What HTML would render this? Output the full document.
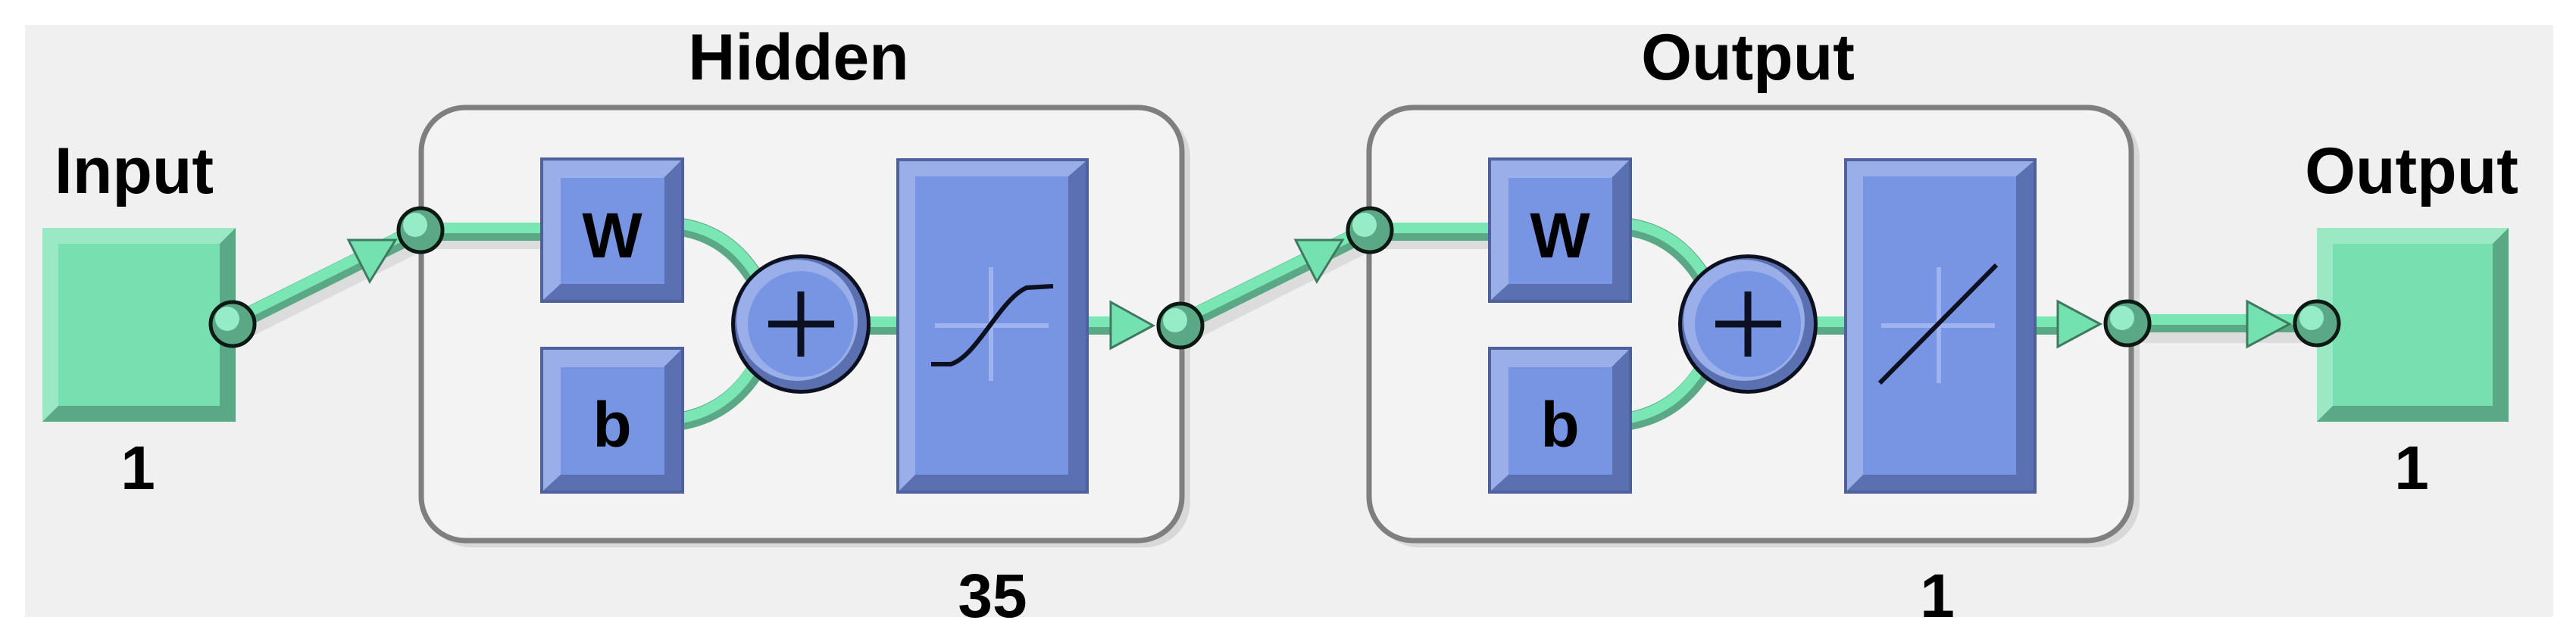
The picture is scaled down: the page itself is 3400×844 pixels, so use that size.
<!DOCTYPE html>
<html><head><meta charset="utf-8"><style>
html,body{margin:0;padding:0;background:#fff;}
svg{display:block;}
text{font-family:"Liberation Sans",sans-serif;font-weight:bold;fill:#000;}
</style></head><body>
<svg width="3400" height="844" viewBox="0 0 3400 844" xmlns="http://www.w3.org/2000/svg">
<defs>
<g id="bbox">
</g>
</defs>
<rect x="33" y="33" width="3337" height="782" fill="#f0f0f0"/>

<!-- labels -->
<text x="1054" y="105" font-size="86" text-anchor="middle">Hidden</text>
<text x="2307" y="105" font-size="86" text-anchor="middle">Output</text>
<text x="177" y="255" font-size="86" text-anchor="middle">Input</text>
<text x="3183" y="255" font-size="86" text-anchor="middle">Output</text>
<text x="182" y="646" font-size="82" text-anchor="middle">1</text>
<text x="3183" y="646" font-size="82" text-anchor="middle">1</text>
<text x="1310" y="815" font-size="82" text-anchor="middle">35</text>
<text x="2557" y="815" font-size="82" text-anchor="middle">1</text>

<!-- layer boxes -->
<rect x="562" y="148" width="1009" height="575" rx="60" fill="#d8d8d8"/>
<rect x="556" y="142" width="1004" height="572" rx="58" fill="#f3f3f3" stroke="#7f7f7f" stroke-width="7"/>
<rect x="1813" y="148" width="1011" height="575" rx="60" fill="#d8d8d8"/>
<rect x="1807" y="142" width="1006" height="572" rx="58" fill="#f3f3f3" stroke="#7f7f7f" stroke-width="7"/>

<!-- input/output green boxes -->
<g>
<rect x="56" y="301" width="255" height="256" fill="#5aa885"/>
<polygon points="56,301 311,301 290,322 77,322 77,536 56,557" fill="#9ae8c4"/>
<rect x="77" y="322" width="213" height="214" fill="#78e0b0"/>
<rect x="3058" y="301" width="253" height="256" fill="#5aa885"/>
<polygon points="3058,301 3311,301 3290,322 3079,322 3079,536 3058,557" fill="#9ae8c4"/>
<rect x="3079" y="322" width="211" height="214" fill="#78e0b0"/>
</g>

<!-- connectors: shadows -->
<g stroke="#dcdcdc" stroke-width="26" fill="none">
<line x1="312" y1="440" x2="560" y2="316"/>
<line x1="1562" y1="442" x2="1812" y2="316"/>
<line x1="2810" y1="440" x2="3058" y2="440"/>
<line x1="555" y1="316" x2="715" y2="316"/>
<line x1="1806" y1="316" x2="1966" y2="316"/>
</g>
<g fill="none" stroke-linecap="butt">
<!-- main green lines -->
<g stroke="#5aa885" stroke-width="24">
<line x1="307" y1="428" x2="555" y2="304"/>
<line x1="1558" y1="428" x2="1808" y2="304"/>
<line x1="2808" y1="427" x2="3058" y2="427"/>
<line x1="555" y1="306" x2="715" y2="306"/>
<line x1="1808" y1="306" x2="1966" y2="306"/>
<line x1="1140" y1="430" x2="1185" y2="430"/>
<line x1="2390" y1="430" x2="2436" y2="430"/>
<line x1="1430" y1="430" x2="1470" y2="430"/>
<line x1="2680" y1="430" x2="2720" y2="430"/>
<path d="M900,300 Q960,310 995,365"/>
<path d="M900,556 Q960,545 995,492"/>
<path d="M2151,300 Q2211,310 2246,365"/>
<path d="M2151,556 Q2211,545 2246,492"/>
</g>
<g stroke="#7ae6b4" stroke-width="14">
<line x1="305" y1="424" x2="553" y2="300"/>
<line x1="1556" y1="424" x2="1806" y2="300"/>
<line x1="2808" y1="422" x2="3058" y2="422"/>
<line x1="555" y1="301" x2="715" y2="301"/>
<line x1="1808" y1="301" x2="1966" y2="301"/>
<line x1="1140" y1="425" x2="1185" y2="425"/>
<line x1="2390" y1="425" x2="2436" y2="425"/>
<line x1="1430" y1="425" x2="1470" y2="425"/>
<line x1="2680" y1="425" x2="2720" y2="425"/>
<path d="M900,296 Q962,306 997,361"/>
<path d="M900,552 Q958,541 992,488"/>
<path d="M2151,296 Q2213,306 2248,361"/>
<path d="M2151,552 Q2209,541 2243,488"/>
</g>
</g>

<!-- arrowheads -->
<g fill="#74e2b0" stroke="#3f7a60" stroke-width="3">
<polygon points="1466,399 1466,460 1522,430"/>
<polygon points="2716,398 2716,458 2772,428"/>
<polygon points="2966,398 2966,458 3022,428"/>
<polygon points="460,317 522,317 488,372"/>
<polygon points="1710,317 1772,317 1738,372"/>
</g>

<!-- W and b boxes -->
<g>
<rect x="713" y="208" width="190" height="192" fill="#4f619c"/>
<rect x="717" y="212" width="182" height="184" fill="#5b70b0"/>
<polygon points="717,212 899,212 876,235 740,235 740,375 717,396" fill="#9aaeea"/>
<rect x="740" y="235" width="137" height="140" fill="#7895e3"/>
<text x="808" y="340" font-size="84" text-anchor="middle">W</text>

<rect x="713" y="458" width="190" height="194" fill="#4f619c"/>
<rect x="717" y="462" width="182" height="186" fill="#5b70b0"/>
<polygon points="717,462 899,462 876,485 740,485 740,627 717,648" fill="#9aaeea"/>
<rect x="740" y="485" width="137" height="142" fill="#7895e3"/>
<text x="808" y="590" font-size="84" text-anchor="middle">b</text>

<rect x="1964" y="208" width="190" height="192" fill="#4f619c"/>
<rect x="1968" y="212" width="182" height="184" fill="#5b70b0"/>
<polygon points="1968,212 2150,212 2127,235 1991,235 1991,375 1968,396" fill="#9aaeea"/>
<rect x="1991" y="235" width="137" height="140" fill="#7895e3"/>
<text x="2059" y="340" font-size="84" text-anchor="middle">W</text>

<rect x="1964" y="458" width="190" height="194" fill="#4f619c"/>
<rect x="1968" y="462" width="182" height="186" fill="#5b70b0"/>
<polygon points="1968,462 2150,462 2127,485 1991,485 1991,627 1968,648" fill="#9aaeea"/>
<rect x="1991" y="485" width="137" height="142" fill="#7895e3"/>
<text x="2059" y="590" font-size="84" text-anchor="middle">b</text>
</g>

<!-- transfer boxes -->
<g>
<rect x="1183" y="209" width="254" height="443" fill="#4f619c"/>
<rect x="1187" y="213" width="246" height="435" fill="#5b70b0"/>
<polygon points="1187,213 1433,213 1410,233 1208,233 1208,627 1187,648" fill="#9aaeea"/>
<rect x="1208" y="233" width="202" height="394" fill="#7895e3"/>
<line x1="1234" y1="430" x2="1384" y2="430" stroke="#9fb3ef" stroke-width="6"/>
<line x1="1308" y1="353" x2="1308" y2="503" stroke="#9fb3ef" stroke-width="6"/>
<path d="M1229,481 L1255,481 C1290,470 1320,395 1355,380 L1390,378" fill="none" stroke="#0d1020" stroke-width="6"/>

<rect x="2434" y="209" width="254" height="443" fill="#4f619c"/>
<rect x="2438" y="213" width="246" height="435" fill="#5b70b0"/>
<polygon points="2438,213 2684,213 2661,233 2459,233 2459,627 2438,648" fill="#9aaeea"/>
<rect x="2459" y="233" width="202" height="394" fill="#7895e3"/>
<line x1="2483" y1="430" x2="2633" y2="430" stroke="#9fb3ef" stroke-width="6"/>
<line x1="2559" y1="353" x2="2559" y2="506" stroke="#9fb3ef" stroke-width="6"/>
<line x1="2481" y1="506" x2="2635" y2="350" stroke="#0d1020" stroke-width="6"/>
</g>

<!-- sum circles -->
<g>
<circle cx="1057" cy="428" r="92" fill="#0d1020"/>
<circle cx="1057" cy="428" r="87" fill="#5b70b0"/>
<circle cx="1052" cy="423" r="80" fill="#9aaeea"/>
<circle cx="1057" cy="428" r="70" fill="#7895e3"/>
<line x1="1014" y1="428" x2="1101" y2="428" stroke="#0d1020" stroke-width="9"/>
<line x1="1057" y1="385" x2="1057" y2="471" stroke="#0d1020" stroke-width="9"/>

<circle cx="2307" cy="428" r="92" fill="#0d1020"/>
<circle cx="2307" cy="428" r="87" fill="#5b70b0"/>
<circle cx="2302" cy="423" r="80" fill="#9aaeea"/>
<circle cx="2307" cy="428" r="70" fill="#7895e3"/>
<line x1="2264" y1="428" x2="2351" y2="428" stroke="#0d1020" stroke-width="9"/>
<line x1="2307" y1="385" x2="2307" y2="471" stroke="#0d1020" stroke-width="9"/>
</g>

<!-- nodes -->
<g stroke="#0d1a14" stroke-width="5">
<circle cx="307" cy="428" r="29" fill="#5aa885"/>
<circle cx="555" cy="304" r="29" fill="#5aa885"/>
<circle cx="1558" cy="430" r="29" fill="#5aa885"/>
<circle cx="1808" cy="304" r="29" fill="#5aa885"/>
<circle cx="2808" cy="427" r="29" fill="#5aa885"/>
<circle cx="3058" cy="427" r="29" fill="#5aa885"/>
</g>
<g fill="#96ecc6">
<circle cx="300" cy="421" r="16"/>
<circle cx="548" cy="297" r="16"/>
<circle cx="1551" cy="423" r="16"/>
<circle cx="1801" cy="297" r="16"/>
<circle cx="2801" cy="420" r="16"/>
<circle cx="3051" cy="420" r="16"/>
</g>
</svg>
</body></html>
